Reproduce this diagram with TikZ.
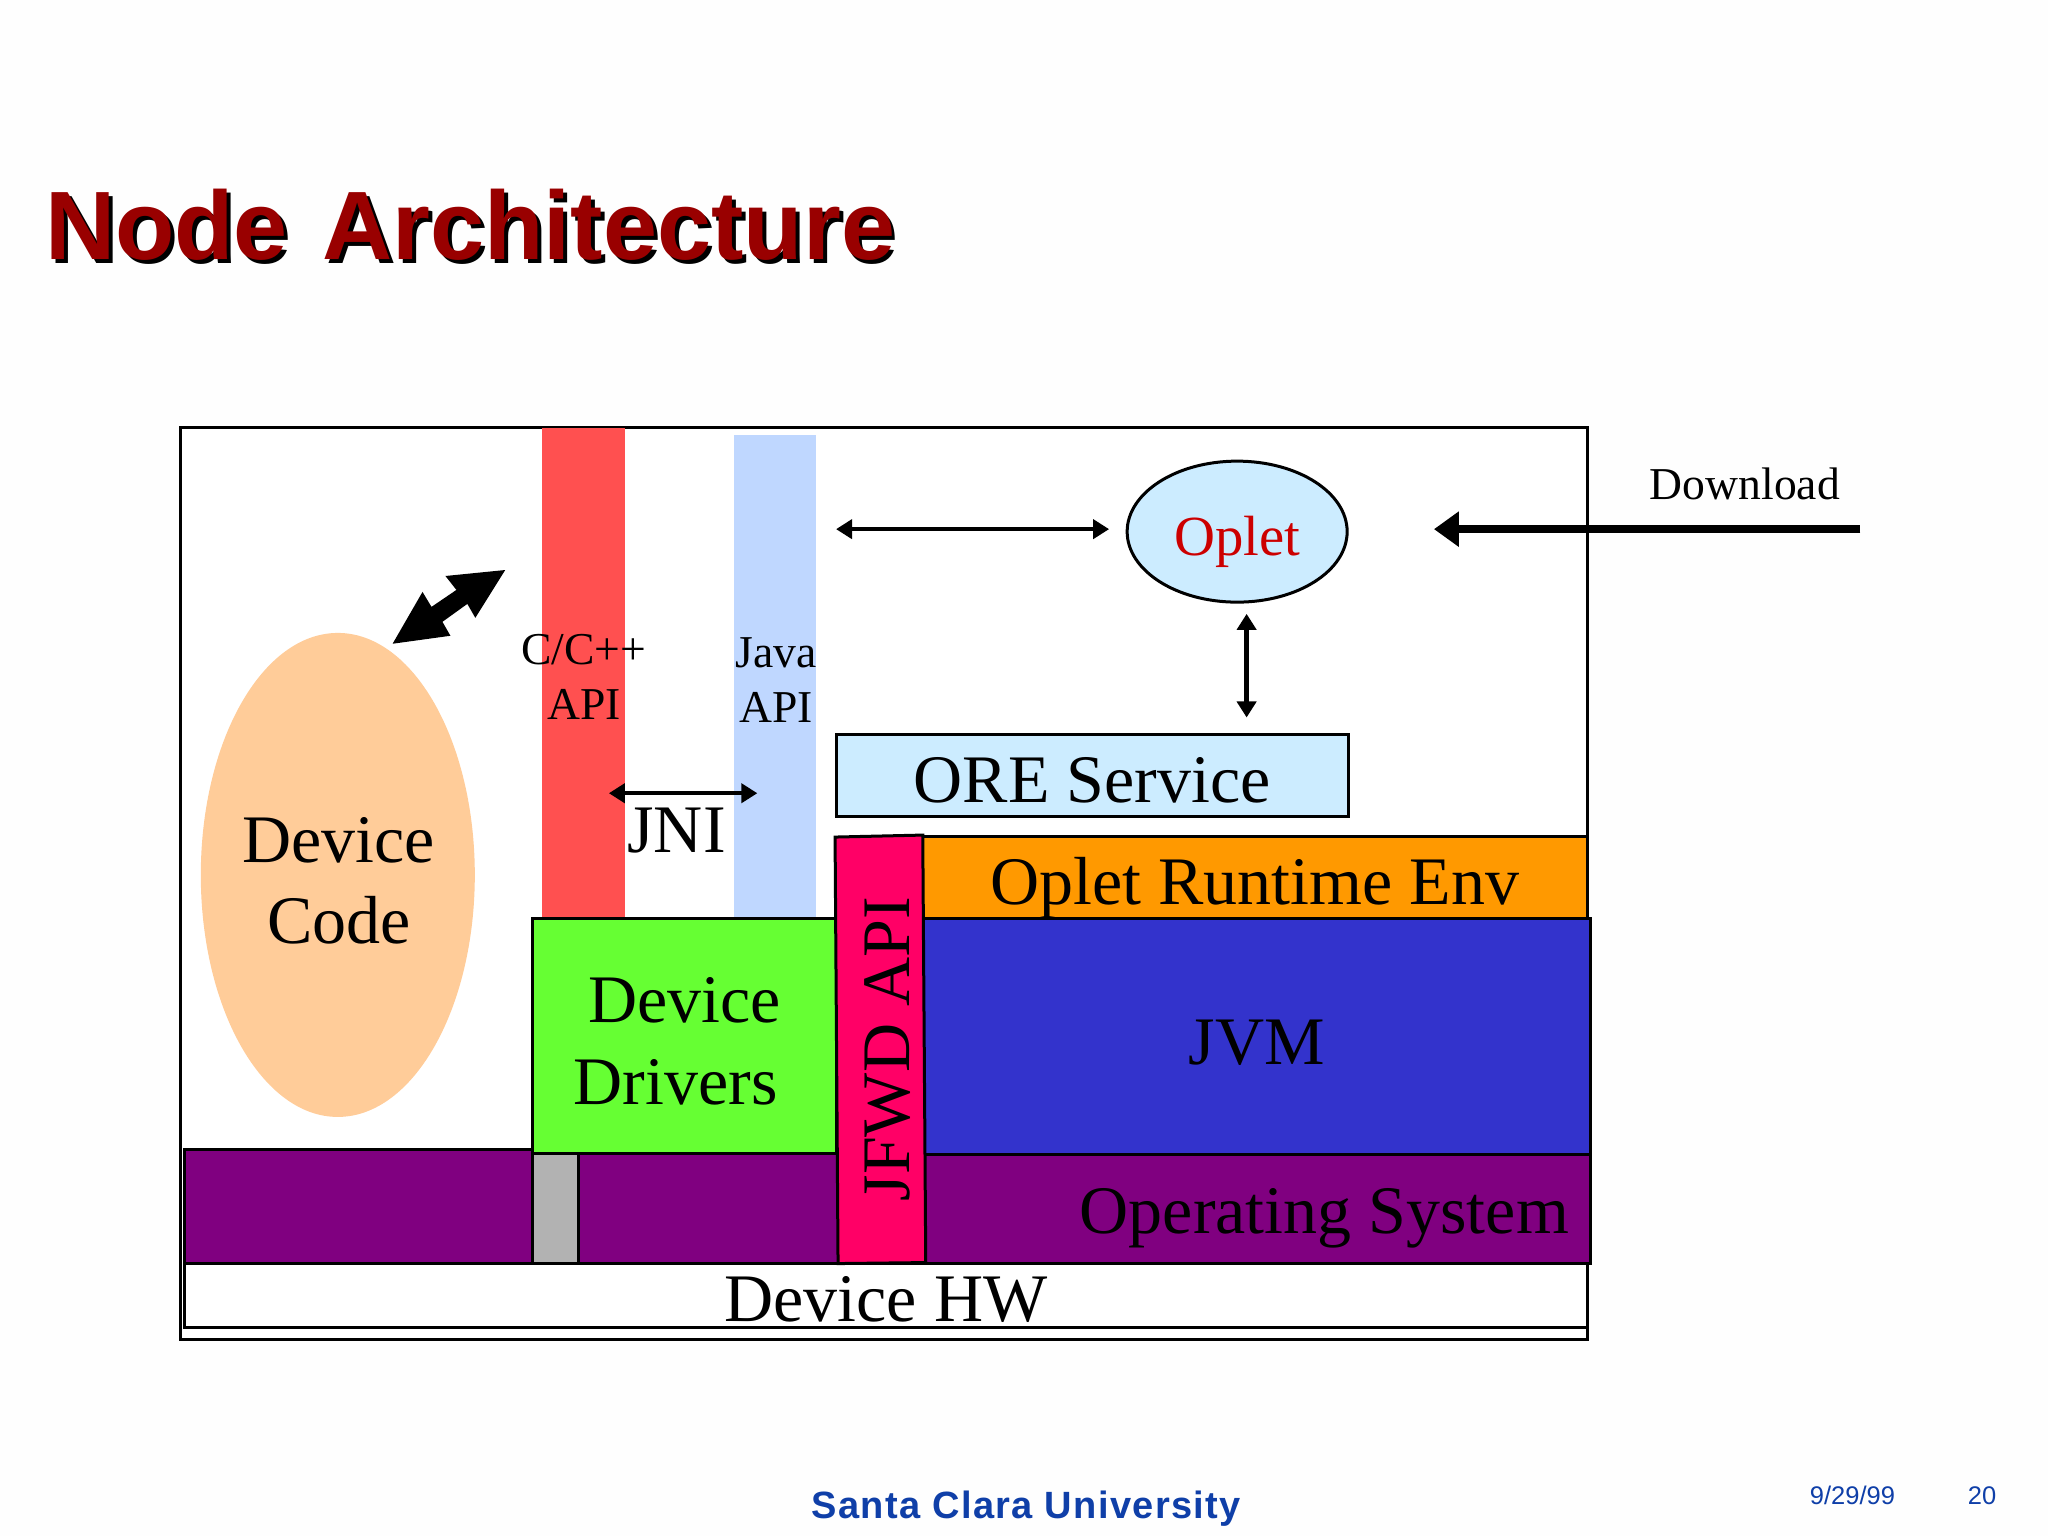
\documentclass[tikz,border=0pt]{standalone}
\usepackage{fontspec}
\setmainfont{Liberation Serif}
\newfontfamily\sansf{Liberation Sans}
\newfontfamily\titlef{Liberation Sans}[WordSpace=1.28]
\newfontfamily\footf{Liberation Sans}[LetterSpace=3.6]
\usetikzlibrary{arrows.meta,fit,shapes.geometric}
\definecolor{cRed}{HTML}{FF5050}
\definecolor{cBlue}{HTML}{BFD7FF}
\definecolor{cPeach}{HTML}{FFCC99}
\definecolor{cGreen}{HTML}{66FF33}
\definecolor{cPurple}{HTML}{800080}
\definecolor{cJvm}{HTML}{3333CC}
\definecolor{cOrange}{HTML}{FF9900}
\definecolor{cPink}{HTML}{FF0066}
\definecolor{cGray}{HTML}{B2B2B2}
\definecolor{cSky}{HTML}{CCECFF}
\definecolor{cOplet}{HTML}{CC0000}
\definecolor{cTitle}{HTML}{990000}
\definecolor{cFoot}{HTML}{0F3FA8}
\newcommand{\fs}[1]{\fontsize{#1}{#1}\selectfont}
\tikzset{
  x=0.9965pt,y=-0.9965pt,
  box/.style={draw=black,line width=3pt,rectangle,inner sep=0pt,outer sep=0pt},
  bar/.style={rectangle,inner sep=0pt,outer sep=0pt},
  big/.style={inner sep=0pt,outer sep=0pt,anchor=base,font=\fs{68}},
  small/.style={inner sep=0pt,outer sep=0pt,anchor=base,font=\fs{45.6}},
  foot/.style={inner sep=0pt,outer sep=0pt,anchor=base,text=cFoot,font=\sansf\fs{25.5}},
  thin arrow/.style={line width=4.4pt,{Triangle[length=16pt,width=19pt]}-{Triangle[length=16pt,width=19pt]}},
  thick arrow/.style={line width=8pt,-{Triangle[length=25pt,width=34pt]}},
}
\begin{document}
\begin{tikzpicture}
\useasboundingbox (0,0) rectangle (2055.2,1541.4);
\fill[white!99.5!black] (0,0) rectangle (2055.2,1541.4);

% title
\node[inner sep=0pt,anchor=base west,text=black,font=\titlef\bfseries\fs{97.2}] (titleshadow) at (49,264) {Node Architecture};
\node[inner sep=0pt,anchor=base west,text=cTitle,font=\titlef\bfseries\fs{97.2}] (title) at (45,260) {Node Architecture};

% outer frame
\node[box,fill=white,fit={(181,429)(1593,1344)}] (frame) {};

% API bars
\node[bar,fill=cRed,fit={(544,429)(627,922)}] (cbar) {};
\node[bar,fill=cBlue,fit={(737,437)(819,922)}] (jbar) {};

% device code
\node[ellipse,fill=cPeach,inner sep=0pt,outer sep=0pt,minimum width=274pt,minimum height=484pt] (devcode) at (339,878) {};

% thick double arrow
\fill[black] (507,572) -- (447,578) -- (458,592) -- (433,609) -- (424,594) -- (394,646) -- (452,638) -- (444,624) -- (469,606) -- (477,620) -- cycle;

% oplet
\node[ellipse,draw=black,line width=3pt,fill=cSky,inner sep=0pt,outer sep=0pt,minimum width=220pt,minimum height=141pt] (oplet) at (1241.5,533.5) {};

% ORE
\node[box,fill=cSky,fit={(839,737)(1353,819)}] (ore) {};

% layers
\node[box,fill=white,fit={(185,1268)(1593,1332)}] (hw) {};
\node[box,fill=cPurple,fit={(185,1154)(534,1268)}] (osleft) {};
\node[box,fill=cGray,fit={(534,1158)(581,1268)}] (gray) {};
\node[box,fill=cPurple,fit={(581,1158)(841,1268)}] (osmid) {};
\node[box,fill=cPurple,fit={(928,1159)(1596,1268)}] (osright) {};
\node[box,fill=cGreen,fit={(534,922)(839,1158)}] (drivers) {};
\node[box,fill=cOrange,fit={(926,839)(1593,922)}] (ore env) {};
\node[box,fill=cJvm,fit={(926,922)(1596,1159)}] (jvm) {};
\draw[draw=black,line width=3pt,fill=cPink] (838,840) -- (926,838) -- (929,1267) -- (841,1268) -- cycle;

% connectors
\coordinate (jniL) at (611,796);
\coordinate (jniR) at (760,796);
\coordinate (apiEnd) at (839,531);
\coordinate (opletW) at (1113,531);
\coordinate (opletS) at (1251,616);
\coordinate (oreN) at (1251,720);
\coordinate (dlTail) at (1867,531);
\coordinate (dlTip) at (1439,531);
\draw[thin arrow] (jniL) -- (jniR);
\draw[thin arrow] (apiEnd) -- (opletW);
\draw[thin arrow] (opletS) -- (oreN);
\draw[thick arrow] (dlTail) -- (dlTip);

% labels
\node[big] (tDevice) at (340,866) {Device};
\node[big] (tCode) at (340,947) {Code};
\node[big] (tDD1) at (687,1026) {Device};
\node[big] (tDD2) at (678,1108) {Drivers};
\node[big] (tOre) at (1096,805) {ORE Service};
\node[big] (tEnv) at (1259,908) {Oplet Runtime Env};
\node[big] (tJvm) at (1261,1068) {JVM};
\node[big] (tOs) at (1329,1238) {Operating System};
\node[big] (tHw) at (889,1326) {Device HW};
\node[big] (tJni) at (679,855) {JNI};
\node[big,rotate=90] (tJfwd) at (913,1053) {JFWD API};
\node[small] (tCpp) at (586,667) {C/C++};
\node[small] (tCapi) at (586,722) {API};
\node[small] (tJava) at (779,670) {Java};
\node[small] (tJapi) at (779,725) {API};
\node[small] (tDl) at (1751,501) {Download};
\node[inner sep=0pt,anchor=base,text=cOplet,font=\fs{56.7}] (tOplet) at (1242,557) {Oplet};

% footer
\node[inner sep=0pt,anchor=base,text=cFoot,font=\footf\bfseries\fs{38}] (tScu) at (1030,1524) {Santa Clara University};
\node[foot] (tDate) at (1859,1510) {9/29/99};
\node[foot] (tNum) at (1989,1510) {20};
\end{tikzpicture}
\end{document}
